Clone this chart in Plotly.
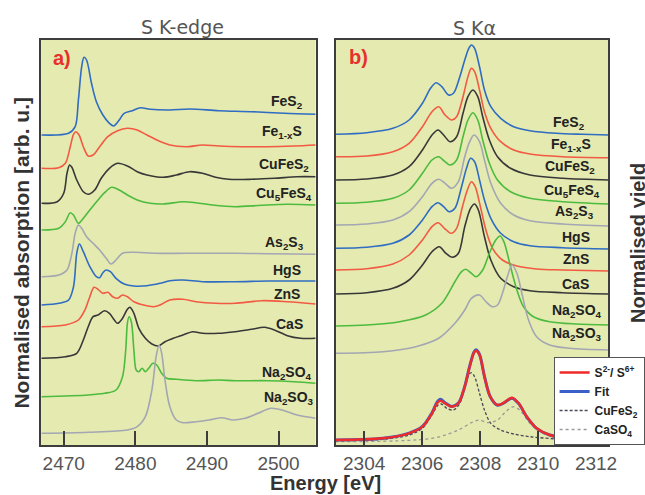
import plotly.graph_objects as go

# ---------------- S K-edge XANES (panel a) ----------------
# energy [eV] and stacked normalised absorption (arb. u.)
a_E_FeS2 = [2466.9, 2470.68, 2471.60, 2472.05, 2472.51, 2472.83, 2473.19, 2473.88, 2474.56, 2475.47, 2476.38,
            2476.98, 2477.75, 2478.44, 2479.58, 2480.72, 2482.08, 2484.82, 2487.56, 2491.66, 2496.22, 2500.78, 2505.2]
a_I_FeS2 = [310.0, 311.7, 318.3, 345.0, 378.3, 387.7, 385.0, 361.7, 343.3, 330.0, 321.7,
            319.0, 325.0, 331.7, 334.3, 337.3, 335.7, 335.0, 336.0, 334.3, 333.3, 331.7, 330.7]

a_E_FeS = [2466.9, 2469.32, 2470.23, 2470.91, 2471.37, 2471.69, 2472.14, 2472.74, 2473.42, 2474.10, 2475.02, 2476.16,
           2477.52, 2478.89, 2480.26, 2481.63, 2483.00, 2484.82, 2487.10, 2489.38, 2491.66, 2494.85, 2498.50, 2502.15, 2505.2]
a_I_FeS = [276.7, 277.3, 281.7, 298.3, 310.7, 313.3, 310.0, 298.3, 289.0, 290.0, 298.3, 308.3,
           314.3, 316.7, 315.0, 310.0, 305.0, 300.0, 298.3, 300.0, 299.0, 298.3, 298.3, 299.0, 300.0]

a_E_CuFeS2 = [2466.9, 2469.09, 2470.0, 2470.46, 2470.82, 2471.14, 2471.82, 2472.74, 2473.42, 2474.33, 2475.24, 2476.38,
              2477.52, 2478.89, 2480.26, 2481.63, 2483.91, 2485.73, 2487.56, 2489.38, 2491.20, 2493.03, 2496.22,
              2499.41, 2502.60, 2505.2]
a_I_CuFeS2 = [241.7, 243.3, 251.7, 271.7, 280.0, 277.7, 265.0, 253.3, 250.7, 255.0, 266.7, 276.7,
              281.7, 279.0, 273.3, 270.0, 267.7, 270.0, 273.3, 271.7, 267.7, 265.7, 265.7,
              266.7, 268.3, 268.3]

a_E_Cu5FeS4 = [2466.9, 2469.32, 2470.23, 2470.91, 2471.37, 2472.05, 2472.74, 2473.65, 2474.79, 2475.70, 2476.70,
               2477.75, 2478.89, 2480.26, 2482.08, 2483.91, 2486.64, 2488.47, 2490.75, 2493.94, 2497.59, 2501.24, 2505.2]
a_I_Cu5FeS4 = [215.0, 216.7, 223.3, 232.3, 230.0, 221.7, 226.7, 235.0, 245.0, 252.3, 257.7,
               255.0, 250.0, 245.0, 241.7, 241.0, 243.3, 242.3, 240.0, 238.3, 239.7, 240.7, 240.0]

a_E_As2S3 = [2466.9, 2469.32, 2470.46, 2471.14, 2471.60, 2472.05, 2472.51, 2473.19, 2474.10, 2475.02, 2475.93,
             2476.61, 2477.30, 2478.21, 2479.80, 2482.54, 2487.10, 2493.94, 2498.50, 2505.2]
a_I_As2S3 = [168.3, 170.0, 175.0, 191.7, 211.7, 220.0, 216.7, 208.3, 201.7, 195.0, 186.7,
             181.0, 185.0, 191.7, 192.7, 191.7, 191.7, 191.7, 191.3, 190.7]

a_E_HgS = [2466.9, 2469.32, 2470.68, 2471.37, 2471.82, 2472.19, 2472.74, 2473.65, 2474.56, 2475.02, 2475.47, 2475.93,
           2476.52, 2477.30, 2478.44, 2479.80, 2481.63, 2483.45, 2484.82, 2486.64, 2489.38, 2493.94, 2498.50, 2505.2]
a_I_HgS = [140.0, 141.7, 145.0, 158.3, 191.7, 201.0, 193.3, 178.3, 168.3, 167.3, 172.3, 175.0,
           173.3, 166.7, 161.0, 159.0, 159.3, 161.7, 164.3, 165.0, 163.3, 163.3, 164.0, 164.0]

a_E_ZnS = [2466.9, 2470.23, 2472.05, 2472.96, 2473.65, 2474.24, 2474.79, 2475.47, 2476.16, 2476.84, 2477.52, 2478.21,
           2478.89, 2479.80, 2481.17, 2482.54, 2483.45, 2484.82, 2486.64, 2488.47, 2491.20, 2493.94, 2497.59, 2501.24, 2505.2]
a_I_ZnS = [118.3, 120.0, 125.0, 135.0, 148.3, 157.7, 155.7, 151.7, 152.7, 148.3, 146.7, 150.0,
           148.3, 143.3, 140.0, 138.3, 140.0, 145.0, 145.7, 143.3, 141.7, 141.7, 144.3, 143.3, 141.0]

a_E_CaS = [2466.9, 2470.23, 2471.82, 2472.74, 2473.42, 2474.10, 2474.79, 2475.70, 2476.38, 2477.07, 2477.52, 2478.21,
           2478.89, 2479.26, 2479.80, 2480.49, 2481.40, 2482.31, 2483.22, 2484.14, 2485.28, 2486.64, 2488.01, 2489.38,
           2491.66, 2493.94, 2496.22, 2498.04, 2499.41, 2501.24, 2503.06, 2505.2]
a_I_CaS = [86.7, 88.3, 91.7, 105.0, 118.3, 128.3, 130.0, 134.3, 131.7, 125.0, 121.7, 126.7,
           135.7, 137.7, 131.7, 116.7, 106.7, 101.0, 99.0, 103.3, 106.7, 110.0, 113.3, 111.7,
           111.7, 113.3, 115.7, 117.7, 115.0, 109.3, 106.7, 106.7]

a_E_Na2SO4 = [2466.9, 2473.42, 2475.70, 2477.30, 2478.21, 2478.66, 2478.89, 2479.12, 2479.44, 2479.80, 2480.12, 2480.49,
              2480.94, 2481.40, 2481.86, 2482.45, 2483.00, 2483.68, 2484.36, 2485.73, 2488.47, 2491.66, 2493.94,
              2498.50, 2502.15, 2505.2]
a_I_Na2SO4 = [48.3, 50.0, 51.7, 55.0, 68.3, 95.0, 121.7, 128.3, 123.3, 95.0, 75.0, 73.3,
              76.7, 73.3, 76.7, 81.7, 80.0, 71.7, 66.7, 65.7, 64.3, 65.0, 64.3,
              64.3, 63.3, 61.7]

a_E_Na2SO3 = [2466.9, 2473.42, 2478.89, 2480.26, 2481.40, 2482.31, 2482.90, 2483.32, 2483.68, 2484.14, 2484.82, 2485.73,
              2486.64, 2488.47, 2490.29, 2492.12, 2493.48, 2495.31, 2497.13, 2498.96, 2500.78, 2502.60, 2505.2]
a_I_Na2SO3 = [11.7, 12.7, 15.0, 18.3, 28.3, 55.0, 88.3, 100.0, 91.7, 65.0, 38.3, 25.0,
              22.3, 23.3, 25.0, 27.3, 25.0, 26.7, 31.7, 36.7, 34.3, 30.0, 26.7]

# ---------------- S Kalpha emission (panel b) ----------------
b_E_FeS2 = [2303.0, 2304.09, 2304.99, 2305.55, 2306.01, 2306.29, 2306.48, 2306.68, 2306.91, 2307.08, 2307.30, 2307.47,
            2307.61, 2307.70, 2307.81, 2307.98, 2308.15, 2308.37, 2308.71, 2309.16, 2309.72, 2310.63, 2311.53, 2312.45]
b_I_FeS2 = [310.7, 312.3, 316.7, 325.0, 341.7, 356.7, 362.3, 358.3, 350.0, 351.7, 368.3, 385.0,
            396.7, 400.0, 396.7, 378.3, 355.0, 338.3, 326.7, 318.3, 314.3, 311.7, 310.7, 310.0]

b_E_FeS = [2303.0, 2304.09, 2304.99, 2305.55, 2306.01, 2306.34, 2306.57, 2306.79, 2307.02, 2307.19, 2307.41, 2307.58,
           2307.70, 2307.81, 2307.98, 2308.15, 2308.37, 2308.71, 2309.16, 2309.72, 2310.85, 2312.45]
b_I_FeS = [288.3, 289.0, 293.3, 301.7, 318.3, 333.3, 338.3, 330.0, 325.0, 328.3, 348.3, 368.3,
           376.7, 373.3, 355.0, 333.3, 316.7, 303.3, 295.0, 291.0, 288.3, 287.3]

b_E_CuFeS2 = [2303.0, 2304.09, 2304.99, 2305.55, 2306.01, 2306.34, 2306.55, 2306.74, 2306.96, 2307.19, 2307.41, 2307.58,
              2307.75, 2307.92, 2308.09, 2308.32, 2308.60, 2309.05, 2309.72, 2310.85, 2312.45]
b_I_CuFeS2 = [265.0, 266.0, 270.0, 278.3, 295.0, 310.0, 315.0, 310.0, 303.3, 308.3, 331.7, 348.3,
              355.0, 348.3, 328.3, 305.0, 288.3, 276.7, 270.0, 266.7, 265.0]

b_E_Cu5FeS4 = [2303.0, 2304.09, 2304.99, 2305.55, 2306.01, 2306.34, 2306.57, 2306.79, 2306.96, 2307.19, 2307.41, 2307.58,
               2307.75, 2307.92, 2308.09, 2308.32, 2308.60, 2309.05, 2309.72, 2310.85, 2312.45]
b_I_Cu5FeS4 = [241.7, 242.7, 246.7, 255.0, 271.7, 285.0, 288.3, 283.3, 280.0, 285.0, 308.3, 325.0,
               332.3, 325.0, 305.0, 281.7, 265.0, 253.3, 246.7, 243.3, 241.0]

b_E_As2S3 = [2303.0, 2304.09, 2304.99, 2305.55, 2306.01, 2306.34, 2306.57, 2306.79, 2307.02, 2307.25, 2307.47, 2307.64,
             2307.79, 2307.98, 2308.15, 2308.37, 2308.71, 2309.16, 2309.72, 2310.85, 2312.45]
b_I_As2S3 = [220.0, 221.0, 225.0, 233.3, 248.3, 261.7, 265.7, 261.7, 256.7, 263.3, 288.3, 303.3,
             310.0, 303.3, 285.0, 261.7, 241.7, 230.0, 224.3, 221.0, 219.0]

b_E_HgS = [2303.0, 2304.09, 2304.99, 2305.55, 2306.01, 2306.34, 2306.55, 2306.74, 2306.93, 2307.13, 2307.36, 2307.53,
           2307.67, 2307.81, 2307.98, 2308.15, 2308.37, 2308.71, 2309.16, 2309.72, 2310.85, 2312.45]
b_I_HgS = [196.7, 197.7, 201.7, 210.0, 225.0, 238.3, 242.3, 238.3, 233.3, 236.7, 258.3, 276.7,
           286.7, 283.3, 265.0, 245.0, 226.7, 211.7, 203.3, 199.3, 197.3, 196.0]

b_E_ZnS = [2303.0, 2304.09, 2304.99, 2305.55, 2306.01, 2306.34, 2306.55, 2306.77, 2307.00, 2307.19, 2307.39, 2307.56,
           2307.70, 2307.83, 2308.01, 2308.20, 2308.43, 2308.77, 2309.27, 2309.95, 2310.85, 2312.45]
b_I_ZnS = [175.0, 176.3, 181.0, 190.0, 205.0, 218.3, 222.3, 216.7, 211.7, 216.7, 238.3, 255.0,
           263.3, 258.3, 238.3, 215.0, 196.7, 185.0, 179.0, 176.0, 175.0, 174.0]

b_E_CaS = [2303.0, 2304.09, 2304.99, 2305.55, 2306.01, 2306.34, 2306.59, 2306.82, 2307.04, 2307.25, 2307.47, 2307.67,
           2307.81, 2307.94, 2308.15, 2308.37, 2308.71, 2309.16, 2309.72, 2310.85, 2312.45]
b_I_CaS = [151.0, 152.3, 156.7, 165.0, 180.0, 193.3, 198.3, 191.7, 187.7, 191.7, 218.3, 236.7,
           241.0, 235.0, 208.3, 185.0, 166.7, 158.3, 154.3, 152.3, 151.0]

b_E_Na2SO4 = [2303.0, 2304.09, 2305.22, 2306.12, 2306.68, 2307.13, 2307.36, 2307.50, 2307.70, 2307.86, 2308.09, 2308.32,
              2308.54, 2308.69, 2308.82, 2309.05, 2309.27, 2309.50, 2309.84, 2310.40, 2311.30, 2312.45]
b_I_Na2SO4 = [119.0, 120.0, 123.3, 130.0, 141.7, 163.3, 173.3, 175.7, 171.7, 168.3, 175.0, 191.7,
              205.0, 209.0, 203.3, 178.3, 155.0, 138.3, 128.3, 123.3, 121.0, 120.0]

b_E_Na2SO3 = [2303.0, 2304.65, 2305.78, 2306.57, 2307.13, 2307.47, 2307.70, 2307.98, 2308.20, 2308.43, 2308.60, 2308.77,
              2308.94, 2309.10, 2309.27, 2309.44, 2309.67, 2309.95, 2310.40, 2311.08, 2312.45]
b_I_Na2SO3 = [91.7, 93.3, 98.3, 106.7, 121.7, 135.0, 146.7, 150.0, 143.3, 138.3, 140.0, 151.7,
              168.3, 180.0, 171.7, 151.7, 125.0, 108.3, 100.0, 96.7, 95.0]

# mixed sample (S2- / S6+), its fit and the two fit components
mix_E = [2303.0, 2304.65, 2305.55, 2306.01, 2306.34, 2306.51, 2306.63, 2306.79, 2307.02, 2307.25, 2307.47, 2307.64,
         2307.79, 2307.86, 2307.98, 2308.15, 2308.35, 2308.60, 2308.82, 2309.10, 2309.33, 2309.61, 2309.95, 2310.40,
         2311.08, 2312.45]
mix_I = [5.0, 6.7, 11.7, 18.3, 31.7, 41.7, 44.3, 41.7, 38.3, 41.7, 58.3, 78.3,
         92.3, 94.3, 90.0, 68.3, 48.3, 40.0, 42.3, 47.3, 41.7, 28.3, 16.7, 10.0,
         6.7, 5.0]
fit_I = [5.0, 6.7, 11.9, 18.6, 32.3, 42.6, 45.7, 42.3, 38.6, 41.9, 58.6, 78.9,
         93.0, 95.2, 90.6, 68.6, 48.3, 39.8, 42.0, 46.8, 41.4, 28.1, 16.6, 10.0,
         6.7, 5.0]

cufes2_E = [2303.0, 2304.65, 2305.55, 2306.01, 2306.34, 2306.55, 2306.66, 2306.85, 2307.08, 2307.30, 2307.47, 2307.61,
            2307.70, 2307.81, 2307.98, 2308.15, 2308.37, 2308.71, 2309.16, 2309.72, 2310.85, 2312.45]
cufes2_I = [4.3, 5.7, 10.0, 16.7, 30.0, 40.0, 41.0, 36.7, 35.0, 41.7, 58.3, 70.0,
            72.3, 68.3, 51.7, 35.0, 21.7, 15.0, 11.0, 8.3, 5.7, 4.3]

caso4_E = [2303.0, 2306.34, 2307.25, 2307.70, 2307.98, 2308.26, 2308.60, 2308.88, 2309.16, 2309.39, 2309.72, 2310.17,
           2310.85, 2312.45]
caso4_I = [3.3, 6.7, 15.0, 22.3, 25.0, 22.3, 25.0, 33.3, 38.3, 34.3, 21.7, 11.7,
           6.7, 4.0]

# ---------------- styling ----------------
BLUE = "#2f6cc2"
RED = "#f25a43"
DARK = "#383838"
GREEN = "#4dbb3e"
LIGHT = "#a4a6b2"
BG = "#e4eab0"
FRAME = "#3d3d3d"

W, H = 645, 495


def px(xp):
    return xp / W


def py(yp):
    return 1 - yp / H


spectra_a = [
    ("FeS<sub>2</sub>", a_E_FeS2, a_I_FeS2, BLUE),
    ("Fe<sub>1-x</sub>S", a_E_FeS, a_I_FeS, RED),
    ("CuFeS<sub>2</sub>", a_E_CuFeS2, a_I_CuFeS2, DARK),
    ("Cu<sub>5</sub>FeS<sub>4</sub>", a_E_Cu5FeS4, a_I_Cu5FeS4, GREEN),
    ("As<sub>2</sub>S<sub>3</sub>", a_E_As2S3, a_I_As2S3, LIGHT),
    ("HgS", a_E_HgS, a_I_HgS, BLUE),
    ("ZnS", a_E_ZnS, a_I_ZnS, RED),
    ("CaS", a_E_CaS, a_I_CaS, DARK),
    ("Na<sub>2</sub>SO<sub>4</sub>", a_E_Na2SO4, a_I_Na2SO4, GREEN),
    ("Na<sub>2</sub>SO<sub>3</sub>", a_E_Na2SO3, a_I_Na2SO3, LIGHT),
]
spectra_b = [
    ("FeS<sub>2</sub>", b_E_FeS2, b_I_FeS2, BLUE),
    ("Fe<sub>1-x</sub>S", b_E_FeS, b_I_FeS, RED),
    ("CuFeS<sub>2</sub>", b_E_CuFeS2, b_I_CuFeS2, DARK),
    ("Cu<sub>5</sub>FeS<sub>4</sub>", b_E_Cu5FeS4, b_I_Cu5FeS4, GREEN),
    ("As<sub>2</sub>S<sub>3</sub>", b_E_As2S3, b_I_As2S3, LIGHT),
    ("HgS", b_E_HgS, b_I_HgS, BLUE),
    ("ZnS", b_E_ZnS, b_I_ZnS, RED),
    ("CaS", b_E_CaS, b_I_CaS, DARK),
    ("Na<sub>2</sub>SO<sub>4</sub>", b_E_Na2SO4, b_I_Na2SO4, GREEN),
    ("Na<sub>2</sub>SO<sub>3</sub>", b_E_Na2SO3, b_I_Na2SO3, LIGHT),
]

# label anchor (energy, height) for each spectrum name
label_pos_a = [(2501.2, 343), (2500.5, 313), (2500.8, 280), (2500.8, 251), (2500.8, 202),
               (2501.2, 175), (2501.2, 151), (2501.5, 121), (2501.2, 72), (2501.4, 47)]
label_pos_b = [(2311.08, 322), (2311.13, 300), (2311.1, 278), (2311.17, 254), (2311.25, 233),
               (2311.3, 208), (2311.3, 186), (2311.3, 161), (2311.36, 134), (2311.36, 111)]

fig = go.Figure()

for name, e, i, c in spectra_a:
    fig.add_trace(go.Scatter(x=e, y=i, mode="lines", xaxis="x", yaxis="y",
                             line=dict(color=c, width=1.6, shape="spline", smoothing=0.9),
                             showlegend=False, hoverinfo="skip"))
for name, e, i, c in spectra_b:
    fig.add_trace(go.Scatter(x=e, y=i, mode="lines", xaxis="x2", yaxis="y2",
                             line=dict(color=c, width=1.6, shape="spline", smoothing=0.9),
                             showlegend=False, hoverinfo="skip"))

fig.add_trace(go.Scatter(x=caso4_E, y=caso4_I, mode="lines", xaxis="x2", yaxis="y2",
                         name="<b>CaSO<sub>4</sub></b>", legendrank=4,
                         line=dict(color="#9a9a9a", width=1.3, dash="dot", shape="spline", smoothing=0.9)))
fig.add_trace(go.Scatter(x=cufes2_E, y=cufes2_I, mode="lines", xaxis="x2", yaxis="y2",
                         name="<b>CuFeS<sub>2</sub></b>", legendrank=3,
                         line=dict(color="#4a4a5a", width=1.3, dash="3px,2px", shape="spline", smoothing=0.9)))
fig.add_trace(go.Scatter(x=mix_E, y=fit_I, mode="lines", xaxis="x2", yaxis="y2",
                         name="<b>Fit</b>", legendrank=2,
                         line=dict(color="#3a5fc8", width=3, shape="spline", smoothing=0.9)))
fig.add_trace(go.Scatter(x=mix_E, y=mix_I, mode="lines", xaxis="x2", yaxis="y2",
                         name="<b>S<sup>2-</sup>/ S<sup>6+</sup></b>", legendrank=1,
                         line=dict(color="#ee2a2a", width=2.4, shape="spline", smoothing=0.9)))

annotations = []
lab_font = dict(family="Liberation Sans, Arial, sans-serif", size=14, color="#222222")
for (name, *_), (lx, ly) in zip(spectra_a, label_pos_a):
    annotations.append(dict(x=lx, y=ly, xref="x", yref="y", text="<b>%s</b>" % name,
                            showarrow=False, font=lab_font, xanchor="center", yanchor="middle"))
for (name, *_), (lx, ly) in zip(spectra_b, label_pos_b):
    annotations.append(dict(x=lx, y=ly, xref="x2", yref="y2", text="<b>%s</b>" % name,
                            showarrow=False, font=lab_font, xanchor="center", yanchor="middle"))

title_font = dict(family="DejaVu Sans, sans-serif", size=19, color="#555555")
annotations += [
    dict(x=px(186), y=py(27), xref="paper", yref="paper", text="S K-edge", showarrow=False,
         font=title_font, xanchor="center", yanchor="middle"),
    dict(x=px(484), y=py(28), xref="paper", yref="paper", text="S K\u03b1", showarrow=False,
         font=title_font, xanchor="center", yanchor="middle"),
    dict(x=px(63), y=py(58), xref="paper", yref="paper", text="<b>a)</b>", showarrow=False,
         font=dict(family="Liberation Sans, Arial, sans-serif", size=20, color="#e8302a"),
         xanchor="center", yanchor="middle"),
    dict(x=px(366), y=py(57), xref="paper", yref="paper", text="<b>b)</b>", showarrow=False,
         font=dict(family="Liberation Sans, Arial, sans-serif", size=20, color="#e8302a"),
         xanchor="center", yanchor="middle"),
    dict(x=px(332), y=py(483), xref="paper", yref="paper", text="<b>Energy [eV]</b>", showarrow=False,
         font=dict(family="Liberation Sans, Arial, sans-serif", size=20, color="#333333"),
         xanchor="center", yanchor="middle"),
    dict(x=px(22), y=py(253), xref="paper", yref="paper", text="<b>Normalised absorption [arb. u.]</b>",
         showarrow=False, textangle=-90,
         font=dict(family="Liberation Sans, Arial, sans-serif", size=21, color="#333333"),
         xanchor="center", yanchor="middle"),
    dict(x=px(647), y=py(243), xref="paper", yref="paper", text="<b>Normalised yield</b>",
         showarrow=False, textangle=-90, xshift=4,
         font=dict(family="Liberation Sans, Arial, sans-serif", size=20, color="#333333"),
         xanchor="center", yanchor="middle"),
]

ydom = [py(445), py(40)]
common_x = dict(ticks="inside", ticklen=14, tickwidth=1.5, tickcolor=FRAME,
                showline=True, linecolor=FRAME, linewidth=2, mirror=True,
                showgrid=False, zeroline=False,
                tickfont=dict(family="Liberation Sans, Arial, sans-serif", size=19, color="#555555"))
common_y = dict(range=[0, 405], domain=ydom, showticklabels=False, ticks="",
                showline=True, linecolor=FRAME, linewidth=2, mirror=True,
                showgrid=False, zeroline=False)

fig.update_layout(
    width=W, height=H,
    margin=dict(l=0, r=0, t=0, b=0),
    paper_bgcolor="white",
    plot_bgcolor=BG,
    xaxis=dict(domain=[px(42), px(322)], range=[2466.85, 2505.16],
               tickvals=[2470, 2480, 2490, 2500], anchor="y", **common_x),
    yaxis=dict(anchor="x", **common_y),
    xaxis2=dict(domain=[px(343), px(621)], range=[2303.03, 2312.43],
                tickvals=[2304, 2306, 2308, 2310, 2312], anchor="y2", **common_x),
    yaxis2=dict(anchor="x2", **common_y),
    showlegend=True,
    legend=dict(x=px(565), y=py(357), xanchor="left", yanchor="top",
                bgcolor="white", bordercolor="#555555", borderwidth=1,
                font=dict(family="Liberation Sans, Arial, sans-serif", size=12, color="#222222"),
                tracegroupgap=0, itemwidth=30),
    annotations=annotations,
)

fig.write_html("out.html")
